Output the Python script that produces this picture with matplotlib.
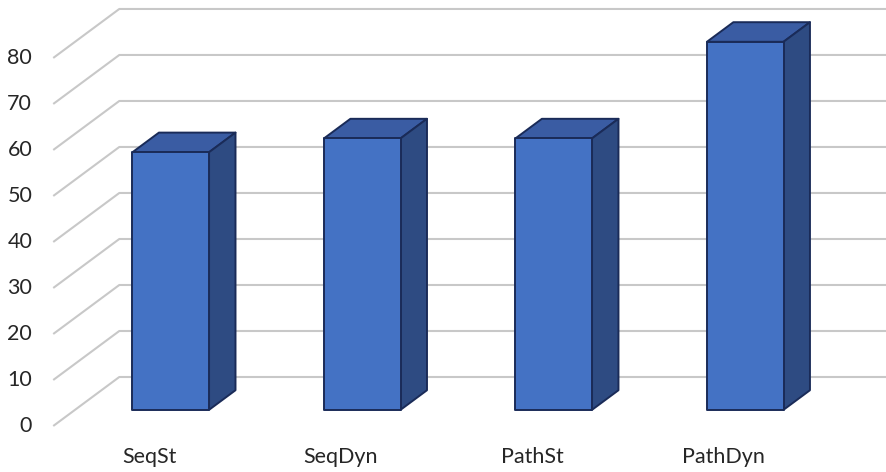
import numpy as np
import matplotlib.pyplot as plt
from matplotlib.patches import Polygon

categories = ['SeqSt', 'SeqDyn', 'PathSt', 'PathDyn']
values = [56, 59, 59, 80]
yticks = [0, 10, 20, 30, 40, 50, 60, 70, 80]

# oblique 3D projection: depth z in [0, 1] shifts right and up
DX = 0.345
DY = 10.65
BAR_W = 0.40
Z0, Z1 = 0.33, 0.73


def proj(x, v, z):
    return (x + z * DX, v + z * DY)


fig = plt.figure(figsize=(8.86, 4.72), dpi=100)
ax = fig.add_axes([0, 0, 1, 1])
ax.set_xlim(-0.778, 3.849)
ax.set_ylim(-10, 92.6)
ax.axis('off')

font = dict(family=['Lato', 'DejaVu Sans'], fontsize=15.5, color='#262626')

# gridlines: slanted along the left wall, flat along the back wall
n = len(categories)
for t in yticks:
    pts = np.array([proj(-0.5, t, 0), proj(-0.5, t, 1), proj(n - 0.48, t, 1)])
    ax.plot(pts[:, 0], pts[:, 1], color='#c8c8c8', lw=1.5, zorder=1,
            solid_capstyle='butt')
    x0, y0 = proj(-0.5, t, 0)
    ax.text(x0 - 0.11, y0, str(t), ha='right', va='center', **font)

front_c = '#4472c4'
side_c = '#2e4b82'
top_c = '#3a5ca3'
edge_c = '#1a2b58'

for i, (cat, v) in enumerate(zip(categories, values)):
    xl, xr = i - BAR_W / 2, i + BAR_W / 2
    top = [proj(xl, v, Z0), proj(xr, v, Z0), proj(xr, v, Z1), proj(xl, v, Z1)]
    side = [proj(xr, 0, Z0), proj(xr, 0, Z1), proj(xr, v, Z1), proj(xr, v, Z0)]
    front = [proj(xl, 0, Z0), proj(xr, 0, Z0), proj(xr, v, Z0), proj(xl, v, Z0)]
    for face, col in ((top, top_c), (side, side_c), (front, front_c)):
        ax.add_patch(Polygon(face, closed=True, facecolor=col,
                             edgecolor=edge_c, lw=1.4, joinstyle='round',
                             zorder=3))
    ax.annotate(cat, xy=proj(i, 0, 0), xytext=(0, -31),
                textcoords='offset pixels', ha='center', va='center', **font)

fig.savefig('out.png', dpi=100)
